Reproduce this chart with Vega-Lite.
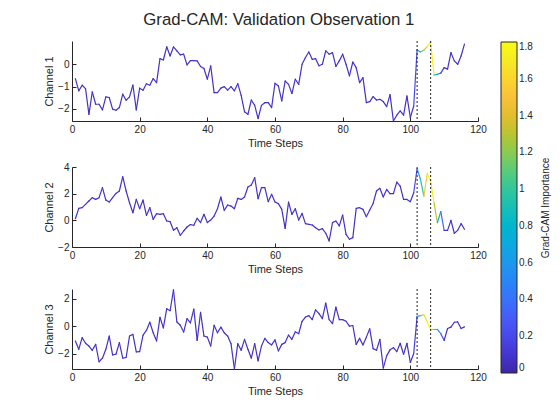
{
"$schema":"https://vega.github.io/schema/vega-lite/v6.json",
"padding":{"left":43,"top":12,"right":5,"bottom":5},
"title":{"text":"Grad-CAM: Validation Observation 1","fontSize":16.8,"fontWeight":"normal","color":"#262626","font":"Liberation Sans","anchor":"middle","offset":11.5,"dx":-19},
"datasets":{
"m":[{"x":102},{"x":106}],
"s":[
{"c":1,"t":1,"v":-0.64,"g":0.08},{"c":1,"t":2,"v":-1.19,"g":0.08},{"c":1,"t":3,"v":-0.94,"g":0.08},{"c":1,"t":4,"v":-1.09,"g":0.08},{"c":1,"t":5,"v":-2.24,"g":0.08},{"c":1,"t":6,"v":-1.24,"g":0.08},{"c":1,"t":7,"v":-1.79,"g":0.08},{"c":1,"t":8,"v":-1.79,"g":0.08},{"c":1,"t":9,"v":-2.04,"g":0.08},{"c":1,"t":10,"v":-1.46,"g":0.08},
{"c":1,"t":11,"v":-1.49,"g":0.08},{"c":1,"t":12,"v":-2.01,"g":0.08},{"c":1,"t":13,"v":-2.06,"g":0.08},{"c":1,"t":14,"v":-1.94,"g":0.08},{"c":1,"t":15,"v":-1.34,"g":0.08},{"c":1,"t":16,"v":-1.61,"g":0.08},{"c":1,"t":17,"v":-1.46,"g":0.08},{"c":1,"t":18,"v":-0.93,"g":0.08},{"c":1,"t":19,"v":-2.04,"g":0.08},{"c":1,"t":20,"v":-1.07,"g":0.08},
{"c":1,"t":21,"v":-1.16,"g":0.08},{"c":1,"t":22,"v":-0.87,"g":0.08},{"c":1,"t":23,"v":-0.94,"g":0.08},{"c":1,"t":24,"v":-0.64,"g":0.08},{"c":1,"t":25,"v":-0.82,"g":0.08},{"c":1,"t":26,"v":0.25,"g":0.08},{"c":1,"t":27,"v":0.19,"g":0.08},{"c":1,"t":28,"v":0.78,"g":0.08},{"c":1,"t":29,"v":0.37,"g":0.08},{"c":1,"t":30,"v":0.78,"g":0.08},
{"c":1,"t":31,"v":0.6,"g":0.08},{"c":1,"t":32,"v":0.42,"g":0.08},{"c":1,"t":33,"v":0.45,"g":0.08},{"c":1,"t":34,"v":-0.03,"g":0.08},{"c":1,"t":35,"v":0.16,"g":0.08},{"c":1,"t":36,"v":0.16,"g":0.08},{"c":1,"t":37,"v":0.15,"g":0.08},{"c":1,"t":38,"v":-0.1,"g":0.08},{"c":1,"t":39,"v":-0.19,"g":0.08},{"c":1,"t":40,"v":-0.67,"g":0.08},
{"c":1,"t":41,"v":-0.07,"g":0.08},{"c":1,"t":42,"v":-1.27,"g":0.08},{"c":1,"t":43,"v":-1.27,"g":0.08},{"c":1,"t":44,"v":-1.07,"g":0.08},{"c":1,"t":45,"v":-1.0,"g":0.08},{"c":1,"t":46,"v":-1.16,"g":0.08},{"c":1,"t":47,"v":-1.0,"g":0.08},{"c":1,"t":48,"v":-1.19,"g":0.08},{"c":1,"t":49,"v":-0.87,"g":0.08},{"c":1,"t":50,"v":-1.39,"g":0.08},
{"c":1,"t":51,"v":-2.13,"g":0.08},{"c":1,"t":52,"v":-2.24,"g":0.08},{"c":1,"t":53,"v":-1.6,"g":0.08},{"c":1,"t":54,"v":-1.84,"g":0.08},{"c":1,"t":55,"v":-2.43,"g":0.08},{"c":1,"t":56,"v":-1.84,"g":0.08},{"c":1,"t":57,"v":-1.72,"g":0.08},{"c":1,"t":58,"v":-1.72,"g":0.08},{"c":1,"t":59,"v":-1.94,"g":0.08},{"c":1,"t":60,"v":-0.85,"g":0.08},
{"c":1,"t":61,"v":-0.97,"g":0.08},{"c":1,"t":62,"v":-1.64,"g":0.08},{"c":1,"t":63,"v":-0.75,"g":0.08},{"c":1,"t":64,"v":-0.9,"g":0.08},{"c":1,"t":65,"v":-1.31,"g":0.08},{"c":1,"t":66,"v":-0.67,"g":0.08},{"c":1,"t":67,"v":-0.9,"g":0.08},{"c":1,"t":68,"v":0.0,"g":0.08},{"c":1,"t":69,"v":0.3,"g":0.08},{"c":1,"t":70,"v":0.55,"g":0.08},
{"c":1,"t":71,"v":0.22,"g":0.08},{"c":1,"t":72,"v":0.25,"g":0.08},{"c":1,"t":73,"v":-0.07,"g":0.08},{"c":1,"t":74,"v":0.0,"g":0.08},{"c":1,"t":75,"v":0.6,"g":0.08},{"c":1,"t":76,"v":0.45,"g":0.08},{"c":1,"t":77,"v":0.52,"g":0.08},{"c":1,"t":78,"v":-0.1,"g":0.08},{"c":1,"t":79,"v":0.15,"g":0.08},{"c":1,"t":80,"v":0.45,"g":0.08},
{"c":1,"t":81,"v":0.0,"g":0.08},{"c":1,"t":82,"v":-0.52,"g":0.08},{"c":1,"t":83,"v":0.1,"g":0.08},{"c":1,"t":84,"v":-0.15,"g":0.08},{"c":1,"t":85,"v":-0.82,"g":0.08},{"c":1,"t":86,"v":-0.6,"g":0.08},{"c":1,"t":87,"v":-1.72,"g":0.08},{"c":1,"t":88,"v":-1.67,"g":0.08},{"c":1,"t":89,"v":-1.45,"g":0.08},{"c":1,"t":90,"v":-1.6,"g":0.08},
{"c":1,"t":91,"v":-1.57,"g":0.08},{"c":1,"t":92,"v":-1.67,"g":0.08},{"c":1,"t":93,"v":-1.9,"g":0.08},{"c":1,"t":94,"v":-1.36,"g":0.08},{"c":1,"t":95,"v":-2.54,"g":0.08},{"c":1,"t":96,"v":-2.28,"g":0.08},{"c":1,"t":97,"v":-2.09,"g":0.08},{"c":1,"t":98,"v":-2.28,"g":0.08},{"c":1,"t":99,"v":-1.42,"g":0.08},{"c":1,"t":100,"v":-2.39,"g":0.08},
{"c":1,"t":101,"v":-1.87,"g":0.2},{"c":1,"t":102,"v":0.64,"g":0.6},{"c":1,"t":103,"v":0.55,"g":1.1},{"c":1,"t":104,"v":0.63,"g":1.4},{"c":1,"t":105,"v":0.79,"g":1.7},{"c":1,"t":106,"v":1.0,"g":1.75},{"c":1,"t":107,"v":-0.48,"g":0.8},{"c":1,"t":108,"v":-0.45,"g":0.45},{"c":1,"t":109,"v":-0.4,"g":0.15},{"c":1,"t":110,"v":-0.15,"g":0.08},
{"c":1,"t":111,"v":-0.22,"g":0.08},{"c":1,"t":112,"v":0.52,"g":0.08},{"c":1,"t":113,"v":0.15,"g":0.08},{"c":1,"t":114,"v":0.0,"g":0.08},{"c":1,"t":115,"v":0.37,"g":0.08},{"c":1,"t":116,"v":0.9,"g":0.08},
{"c":2,"t":1,"v":0.12,"g":0.08},{"c":2,"t":2,"v":0.9,"g":0.08},{"c":2,"t":3,"v":0.95,"g":0.08},{"c":2,"t":4,"v":1.2,"g":0.08},{"c":2,"t":5,"v":1.45,"g":0.08},{"c":2,"t":6,"v":1.7,"g":0.08},{"c":2,"t":7,"v":1.57,"g":0.08},{"c":2,"t":8,"v":1.7,"g":0.08},{"c":2,"t":9,"v":2.45,"g":0.08},{"c":2,"t":10,"v":1.52,"g":0.08},
{"c":2,"t":11,"v":1.37,"g":0.08},{"c":2,"t":12,"v":1.7,"g":0.08},{"c":2,"t":13,"v":2.02,"g":0.08},{"c":2,"t":14,"v":2.2,"g":0.08},{"c":2,"t":15,"v":3.27,"g":0.08},{"c":2,"t":16,"v":2.2,"g":0.08},{"c":2,"t":17,"v":1.32,"g":0.08},{"c":2,"t":18,"v":0.57,"g":0.08},{"c":2,"t":19,"v":1.57,"g":0.08},{"c":2,"t":20,"v":0.87,"g":0.08},
{"c":2,"t":21,"v":1.52,"g":0.08},{"c":2,"t":22,"v":0.37,"g":0.08},{"c":2,"t":23,"v":0.95,"g":0.08},{"c":2,"t":24,"v":0.07,"g":0.08},{"c":2,"t":25,"v":0.5,"g":0.08},{"c":2,"t":26,"v":0.45,"g":0.08},{"c":2,"t":27,"v":0.5,"g":0.08},{"c":2,"t":28,"v":-0.05,"g":0.08},{"c":2,"t":29,"v":-0.1,"g":0.08},{"c":2,"t":30,"v":-0.75,"g":0.08},
{"c":2,"t":31,"v":-0.55,"g":0.08},{"c":2,"t":32,"v":-1.12,"g":0.08},{"c":2,"t":33,"v":-0.8,"g":0.08},{"c":2,"t":34,"v":-0.5,"g":0.08},{"c":2,"t":35,"v":-0.32,"g":0.08},{"c":2,"t":36,"v":-0.37,"g":0.08},{"c":2,"t":37,"v":0.15,"g":0.08},{"c":2,"t":38,"v":-0.17,"g":0.08},{"c":2,"t":39,"v":0.45,"g":0.08},{"c":2,"t":40,"v":-0.17,"g":0.08},
{"c":2,"t":41,"v":0.02,"g":0.08},{"c":2,"t":42,"v":0.32,"g":0.08},{"c":2,"t":43,"v":0.87,"g":0.08},{"c":2,"t":44,"v":1.75,"g":0.08},{"c":2,"t":45,"v":0.75,"g":0.08},{"c":2,"t":46,"v":1.15,"g":0.08},{"c":2,"t":47,"v":1.07,"g":0.08},{"c":2,"t":48,"v":0.87,"g":0.08},{"c":2,"t":49,"v":1.65,"g":0.08},{"c":2,"t":50,"v":1.57,"g":0.08},
{"c":2,"t":51,"v":1.75,"g":0.08},{"c":2,"t":52,"v":2.5,"g":0.08},{"c":2,"t":53,"v":2.65,"g":0.08},{"c":2,"t":54,"v":3.2,"g":0.08},{"c":2,"t":55,"v":1.62,"g":0.08},{"c":2,"t":56,"v":2.45,"g":0.08},{"c":2,"t":57,"v":2.45,"g":0.08},{"c":2,"t":58,"v":1.4,"g":0.08},{"c":2,"t":59,"v":1.95,"g":0.08},{"c":2,"t":60,"v":1.37,"g":0.08},
{"c":2,"t":61,"v":1.25,"g":0.08},{"c":2,"t":62,"v":0.82,"g":0.08},{"c":2,"t":63,"v":-0.6,"g":0.08},{"c":2,"t":64,"v":1.37,"g":0.08},{"c":2,"t":65,"v":0.45,"g":0.08},{"c":2,"t":66,"v":0.87,"g":0.08},{"c":2,"t":67,"v":0.02,"g":0.08},{"c":2,"t":68,"v":0.52,"g":0.08},{"c":2,"t":69,"v":-0.25,"g":0.08},{"c":2,"t":70,"v":-0.3,"g":0.08},
{"c":2,"t":71,"v":-0.35,"g":0.08},{"c":2,"t":72,"v":-0.55,"g":0.08},{"c":2,"t":73,"v":-0.72,"g":0.08},{"c":2,"t":74,"v":-0.62,"g":0.08},{"c":2,"t":75,"v":-0.97,"g":0.08},{"c":2,"t":76,"v":-1.55,"g":0.08},{"c":2,"t":77,"v":-0.17,"g":0.08},{"c":2,"t":78,"v":-0.05,"g":0.08},{"c":2,"t":79,"v":-0.42,"g":0.08},{"c":2,"t":80,"v":0.4,"g":0.08},
{"c":2,"t":81,"v":-1.05,"g":0.08},{"c":2,"t":82,"v":-1.42,"g":0.08},{"c":2,"t":83,"v":-1.3,"g":0.08},{"c":2,"t":84,"v":0.9,"g":0.08},{"c":2,"t":85,"v":0.95,"g":0.08},{"c":2,"t":86,"v":0.82,"g":0.08},{"c":2,"t":87,"v":0.27,"g":0.08},{"c":2,"t":88,"v":0.77,"g":0.08},{"c":2,"t":89,"v":1.27,"g":0.08},{"c":2,"t":90,"v":2.2,"g":0.08},
{"c":2,"t":91,"v":2.4,"g":0.08},{"c":2,"t":92,"v":1.75,"g":0.08},{"c":2,"t":93,"v":2.32,"g":0.08},{"c":2,"t":94,"v":2.0,"g":0.08},{"c":2,"t":95,"v":2.0,"g":0.08},{"c":2,"t":96,"v":2.87,"g":0.08},{"c":2,"t":97,"v":2.57,"g":0.08},{"c":2,"t":98,"v":1.57,"g":0.08},{"c":2,"t":99,"v":1.57,"g":0.08},{"c":2,"t":100,"v":1.4,"g":0.08},
{"c":2,"t":101,"v":2.07,"g":0.2},{"c":2,"t":102,"v":3.87,"g":0.6},{"c":2,"t":103,"v":3.07,"g":0.95},{"c":2,"t":104,"v":1.82,"g":1.55},{"c":2,"t":105,"v":3.52,"g":1.75},{"c":2,"t":106,"v":2.95,"g":1.7},{"c":2,"t":107,"v":1.32,"g":1.3},{"c":2,"t":108,"v":-0.17,"g":0.75},{"c":2,"t":109,"v":0.65,"g":0.35},{"c":2,"t":110,"v":-0.75,"g":0.08},
{"c":2,"t":111,"v":-0.75,"g":0.08},{"c":2,"t":112,"v":0.0,"g":0.08},{"c":2,"t":113,"v":-0.97,"g":0.08},{"c":2,"t":114,"v":-0.75,"g":0.08},{"c":2,"t":115,"v":-0.25,"g":0.08},{"c":2,"t":116,"v":-0.67,"g":0.08},
{"c":3,"t":1,"v":-1.08,"g":0.08},{"c":3,"t":2,"v":-1.69,"g":0.08},{"c":3,"t":3,"v":-0.84,"g":0.08},{"c":3,"t":4,"v":-1.25,"g":0.08},{"c":3,"t":5,"v":-1.45,"g":0.08},{"c":3,"t":6,"v":-1.76,"g":0.08},{"c":3,"t":7,"v":-1.33,"g":0.08},{"c":3,"t":8,"v":-2.6,"g":0.08},{"c":3,"t":9,"v":-2.34,"g":0.08},{"c":3,"t":10,"v":-1.69,"g":0.08},
{"c":3,"t":11,"v":-0.72,"g":0.08},{"c":3,"t":12,"v":-2.1,"g":0.08},{"c":3,"t":13,"v":-2.05,"g":0.08},{"c":3,"t":14,"v":-1.2,"g":0.08},{"c":3,"t":15,"v":-2.34,"g":0.08},{"c":3,"t":16,"v":-2.29,"g":0.08},{"c":3,"t":17,"v":-0.72,"g":0.08},{"c":3,"t":18,"v":-0.6,"g":0.08},{"c":3,"t":19,"v":-1.88,"g":0.08},{"c":3,"t":20,"v":-1.86,"g":0.08},
{"c":3,"t":21,"v":-0.65,"g":0.08},{"c":3,"t":22,"v":-0.31,"g":0.08},{"c":3,"t":23,"v":0.29,"g":0.08},{"c":3,"t":24,"v":-0.48,"g":0.08},{"c":3,"t":25,"v":-1.08,"g":0.08},{"c":3,"t":26,"v":0.65,"g":0.08},{"c":3,"t":27,"v":-0.12,"g":0.08},{"c":3,"t":28,"v":1.28,"g":0.08},{"c":3,"t":29,"v":1.13,"g":0.08},{"c":3,"t":30,"v":2.65,"g":0.08},
{"c":3,"t":31,"v":0.31,"g":0.08},{"c":3,"t":32,"v":0.07,"g":0.08},{"c":3,"t":33,"v":-0.43,"g":0.08},{"c":3,"t":34,"v":0.55,"g":0.08},{"c":3,"t":35,"v":0.24,"g":0.08},{"c":3,"t":36,"v":1.25,"g":0.08},{"c":3,"t":37,"v":-1.04,"g":0.08},{"c":3,"t":38,"v":1.01,"g":0.08},{"c":3,"t":39,"v":-0.72,"g":0.08},{"c":3,"t":40,"v":-0.8,"g":0.08},
{"c":3,"t":41,"v":-1.45,"g":0.08},{"c":3,"t":42,"v":0.07,"g":0.08},{"c":3,"t":43,"v":-0.48,"g":0.08},{"c":3,"t":44,"v":-0.07,"g":0.08},{"c":3,"t":45,"v":-0.48,"g":0.08},{"c":3,"t":46,"v":-0.72,"g":0.08},{"c":3,"t":47,"v":-1.28,"g":0.08},{"c":3,"t":48,"v":-3.13,"g":0.08},{"c":3,"t":49,"v":-1.28,"g":0.08},{"c":3,"t":50,"v":-1.76,"g":0.08},
{"c":3,"t":51,"v":-0.96,"g":0.08},{"c":3,"t":52,"v":-1.69,"g":0.08},{"c":3,"t":53,"v":-2.34,"g":0.08},{"c":3,"t":54,"v":-1.28,"g":0.08},{"c":3,"t":55,"v":-2.53,"g":0.08},{"c":3,"t":56,"v":-1.45,"g":0.08},{"c":3,"t":57,"v":-0.89,"g":0.08},{"c":3,"t":58,"v":-1.2,"g":0.08},{"c":3,"t":59,"v":-1.37,"g":0.08},{"c":3,"t":60,"v":-1.0,"g":0.08},
{"c":3,"t":61,"v":-1.81,"g":0.08},{"c":3,"t":62,"v":-1.33,"g":0.08},{"c":3,"t":63,"v":-1.2,"g":0.08},{"c":3,"t":64,"v":-0.65,"g":0.08},{"c":3,"t":65,"v":-0.96,"g":0.08},{"c":3,"t":66,"v":-0.41,"g":0.08},{"c":3,"t":67,"v":-0.55,"g":0.08},{"c":3,"t":68,"v":0.36,"g":0.08},{"c":3,"t":69,"v":0.67,"g":0.08},{"c":3,"t":70,"v":0.77,"g":0.08},
{"c":3,"t":71,"v":0.48,"g":0.08},{"c":3,"t":72,"v":1.2,"g":0.08},{"c":3,"t":73,"v":0.92,"g":0.08},{"c":3,"t":74,"v":0.55,"g":0.08},{"c":3,"t":75,"v":1.69,"g":0.08},{"c":3,"t":76,"v":0.48,"g":0.08},{"c":3,"t":77,"v":0.19,"g":0.08},{"c":3,"t":78,"v":1.4,"g":0.08},{"c":3,"t":79,"v":0.48,"g":0.08},{"c":3,"t":80,"v":0.48,"g":0.08},
{"c":3,"t":81,"v":0.36,"g":0.08},{"c":3,"t":82,"v":0.0,"g":0.08},{"c":3,"t":83,"v":0.05,"g":0.08},{"c":3,"t":84,"v":-1.33,"g":0.08},{"c":3,"t":85,"v":-0.89,"g":0.08},{"c":3,"t":86,"v":-1.37,"g":0.08},{"c":3,"t":87,"v":-0.8,"g":0.08},{"c":3,"t":88,"v":-0.19,"g":0.08},{"c":3,"t":89,"v":-1.64,"g":0.08},{"c":3,"t":90,"v":-1.76,"g":0.08},
{"c":3,"t":91,"v":-0.96,"g":0.08},{"c":3,"t":92,"v":-3.06,"g":0.08},{"c":3,"t":93,"v":-2.17,"g":0.08},{"c":3,"t":94,"v":-1.73,"g":0.08},{"c":3,"t":95,"v":-1.57,"g":0.08},{"c":3,"t":96,"v":-1.86,"g":0.08},{"c":3,"t":97,"v":-1.25,"g":0.08},{"c":3,"t":98,"v":-2.05,"g":0.08},{"c":3,"t":99,"v":-1.25,"g":0.08},{"c":3,"t":100,"v":-2.65,"g":0.08},
{"c":3,"t":101,"v":-2.0,"g":0.15},{"c":3,"t":102,"v":0.72,"g":0.6},{"c":3,"t":103,"v":0.77,"g":1.3},{"c":3,"t":104,"v":0.84,"g":1.65},{"c":3,"t":105,"v":0.31,"g":1.75},{"c":3,"t":106,"v":-0.24,"g":1.4},{"c":3,"t":107,"v":-0.24,"g":1.0},{"c":3,"t":108,"v":-0.24,"g":0.6},{"c":3,"t":109,"v":-0.55,"g":0.25},{"c":3,"t":110,"v":-1.04,"g":0.08},
{"c":3,"t":111,"v":-0.17,"g":0.08},{"c":3,"t":112,"v":-0.07,"g":0.08},{"c":3,"t":113,"v":0.29,"g":0.08},{"c":3,"t":114,"v":0.31,"g":0.08},{"c":3,"t":115,"v":-0.17,"g":0.08},{"c":3,"t":116,"v":-0.05,"g":0.08}
]},
"spacing":14,
"vconcat":[
{"width":406,"height":80,"layer":[
 {"data":{"name":"s"},"transform":[{"filter":"datum.c == 1"},{"window":[{"op":"lead","field":"t","as":"t2"},{"op":"lead","field":"v","as":"v2"}],"sort":[{"field":"t","order":"ascending"}]},{"filter":"isValid(datum.t2)"}],
  "mark":{"type":"rule","strokeWidth":1.2,"strokeCap":"round"},
  "encoding":{
   "x":{"field":"t","type":"quantitative","scale":{"domain":[0,120],"nice":false},"axis":{"values":[0,20,40,60,80,100,120],"title":"Time Steps"}},
   "x2":{"field":"t2"},
   "y":{"field":"v","type":"quantitative","scale":{"domain":[-2.54,1.04],"nice":false,"zero":false},"axis":{"values":[-2,-1,0],"title":"Channel 1"}},
   "y2":{"field":"v2"},
   "color":{"field":"g","type":"quantitative","scale":{"domain":[0,1.8],"range":["#3e26a8","#4537d5","#484df0","#4563fd","#327cfc","#2b91ef","#20a5e3","#08b5d0","#18bfb5","#37c897","#64cd6f","#9dc943","#d1bf27","#f8ba3d","#fccf30","#f5e924","#f9fb14"]},
    "legend":{"orient":"none","legendX":429,"legendY":1,"direction":"vertical","gradientLength":331,"gradientThickness":16,"values":[0,0.2,0.4,0.6,0.8,1,1.2,1.4,1.6,1.8],"format":"~g","title":"Grad-CAM Importance","titleOrient":"right","titleAnchor":"middle","titlePadding":18,"titleFontSize":10,"titleFontWeight":"normal","titleColor":"#262626","labelFontSize":10,"labelColor":"#262626","gradientStrokeColor":"#262626","gradientStrokeWidth":1,"encode":{"title":{"update":{"angle":{"value":270}}}}}}
  }},
 {"data":{"name":"m"},"mark":{"type":"rule","strokeDash":[2,2],"color":"#262626","strokeWidth":1},"encoding":{"x":{"field":"x","type":"quantitative"}}}
]},
{"width":406,"height":80,"layer":[
 {"data":{"name":"s"},"transform":[{"filter":"datum.c == 2"},{"window":[{"op":"lead","field":"t","as":"t2"},{"op":"lead","field":"v","as":"v2"}],"sort":[{"field":"t","order":"ascending"}]},{"filter":"isValid(datum.t2)"}],
  "mark":{"type":"rule","strokeWidth":1.2,"strokeCap":"round"},
  "encoding":{
   "x":{"field":"t","type":"quantitative","scale":{"domain":[0,120],"nice":false},"axis":{"values":[0,20,40,60,80,100,120],"title":"Time Steps"}},
   "x2":{"field":"t2"},
   "y":{"field":"v","type":"quantitative","scale":{"domain":[-2,4],"nice":false,"zero":false},"axis":{"values":[-2,0,2,4],"title":"Channel 2"}},
   "y2":{"field":"v2"},
   "color":{"field":"g","type":"quantitative","scale":{"domain":[0,1.8],"range":["#3e26a8","#4537d5","#484df0","#4563fd","#327cfc","#2b91ef","#20a5e3","#08b5d0","#18bfb5","#37c897","#64cd6f","#9dc943","#d1bf27","#f8ba3d","#fccf30","#f5e924","#f9fb14"]},
    "legend":{"orient":"none","legendX":429,"legendY":1,"direction":"vertical","gradientLength":331,"gradientThickness":16,"values":[0,0.2,0.4,0.6,0.8,1,1.2,1.4,1.6,1.8],"format":"~g","title":"Grad-CAM Importance","titleOrient":"right","titleAnchor":"middle","titlePadding":18,"titleFontSize":10,"titleFontWeight":"normal","titleColor":"#262626","labelFontSize":10,"labelColor":"#262626","gradientStrokeColor":"#262626","gradientStrokeWidth":1,"encode":{"title":{"update":{"angle":{"value":270}}}}}}
  }},
 {"data":{"name":"m"},"mark":{"type":"rule","strokeDash":[2,2],"color":"#262626","strokeWidth":1},"encoding":{"x":{"field":"x","type":"quantitative"}}}
]},
{"width":406,"height":80,"layer":[
 {"data":{"name":"s"},"transform":[{"filter":"datum.c == 3"},{"window":[{"op":"lead","field":"t","as":"t2"},{"op":"lead","field":"v","as":"v2"}],"sort":[{"field":"t","order":"ascending"}]},{"filter":"isValid(datum.t2)"}],
  "mark":{"type":"rule","strokeWidth":1.2,"strokeCap":"round"},
  "encoding":{
   "x":{"field":"t","type":"quantitative","scale":{"domain":[0,120],"nice":false},"axis":{"values":[0,20,40,60,80,100,120],"title":"Time Steps"}},
   "x2":{"field":"t2"},
   "y":{"field":"v","type":"quantitative","scale":{"domain":[-3.13,2.72],"nice":false,"zero":false},"axis":{"values":[-2,0,2],"title":"Channel 3"}},
   "y2":{"field":"v2"},
   "color":{"field":"g","type":"quantitative","scale":{"domain":[0,1.8],"range":["#3e26a8","#4537d5","#484df0","#4563fd","#327cfc","#2b91ef","#20a5e3","#08b5d0","#18bfb5","#37c897","#64cd6f","#9dc943","#d1bf27","#f8ba3d","#fccf30","#f5e924","#f9fb14"]},
    "legend":{"orient":"none","legendX":429,"legendY":1,"direction":"vertical","gradientLength":331,"gradientThickness":16,"values":[0,0.2,0.4,0.6,0.8,1,1.2,1.4,1.6,1.8],"format":"~g","title":"Grad-CAM Importance","titleOrient":"right","titleAnchor":"middle","titlePadding":18,"titleFontSize":10,"titleFontWeight":"normal","titleColor":"#262626","labelFontSize":10,"labelColor":"#262626","gradientStrokeColor":"#262626","gradientStrokeWidth":1,"encode":{"title":{"update":{"angle":{"value":270}}}}}}
  }},
 {"data":{"name":"m"},"mark":{"type":"rule","strokeDash":[2,2],"color":"#262626","strokeWidth":1},"encoding":{"x":{"field":"x","type":"quantitative"}}}
]}
],
"resolve":{"scale":{"color":"shared"}},
"config":{
 "font":"Liberation Sans",
 "view":{"stroke":null},
 "axis":{"grid":false,"domainColor":"#262626","domainWidth":1,"tickColor":"#262626","tickSize":-4,"labelPadding":7,"labelColor":"#262626","labelFontSize":10,"labelFont":"Liberation Sans","titleColor":"#262626","titleFontSize":11,"titleFontWeight":"normal","titleFont":"Liberation Sans","titlePadding":3,"labelFlush":false,"labelOverlap":false}
}
}
